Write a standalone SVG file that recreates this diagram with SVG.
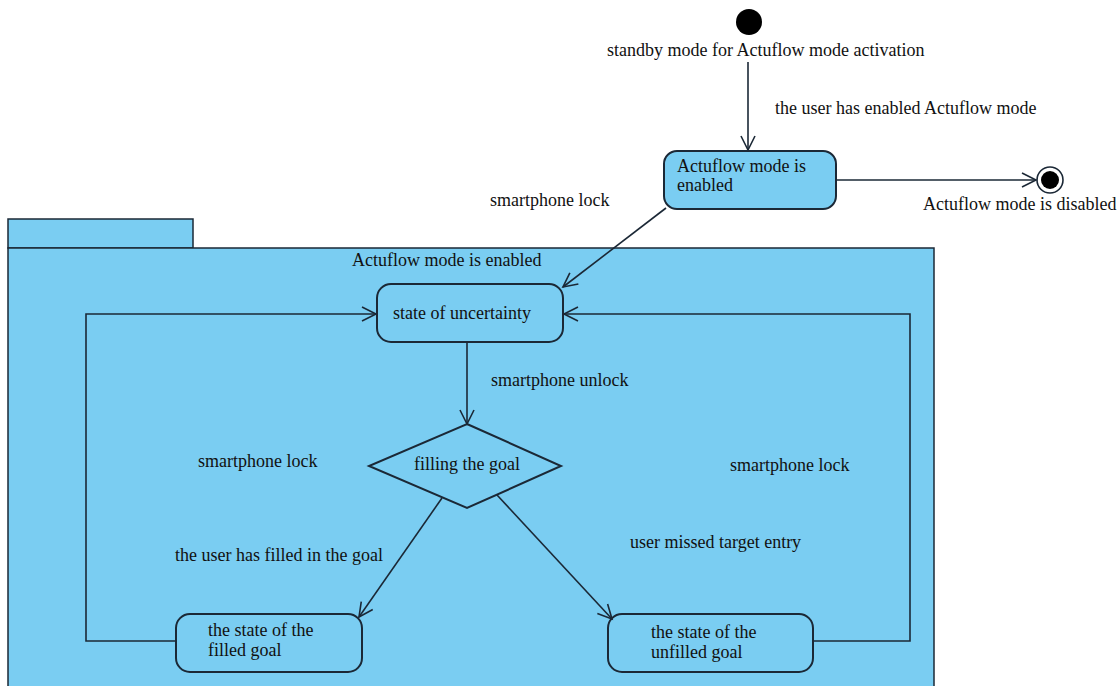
<svg xmlns="http://www.w3.org/2000/svg" width="1120" height="686" viewBox="0 0 1120 686">
  <style>
    .state { fill: #7acdf2; stroke: #1b2836; stroke-width: 2; }
    .frame { fill: #7acdf2; stroke: #1b2836; stroke-width: 1.5; }
    .edge { fill: none; stroke: #1b2836; stroke-width: 1.6; }
  </style>
  <defs>
    <marker id="open" markerWidth="20" markerHeight="20" refX="15" refY="8" orient="auto" markerUnits="userSpaceOnUse">
      <path d="M1,1 L15,8 L1,15" fill="none" stroke="#1b2836" stroke-width="1.6"/>
    </marker>
  </defs>
  <rect width="1120" height="686" fill="#ffffff"/>

  <g font-family="'Liberation Serif', 'Times New Roman', serif" font-size="18" fill="#111">
  <!-- composite state frame -->
  <g id="composite">
    <rect class="frame" x="8" y="219" width="185" height="29"/>
    <rect class="frame" x="8" y="248" width="926" height="450"/>
    <text x="352" y="266">Actuflow mode is enabled</text>
  </g>

  <g id="initial">
    <circle cx="749" cy="22" r="13" fill="#000"/>
    <text x="607" y="56">standby mode for Actuflow mode activation</text>
  </g>

  <g id="enabled">
    <rect class="state" x="664" y="151" width="172" height="58" rx="13"/>
    <text x="677" y="172">Actuflow mode is</text>
    <text x="677" y="191">enabled</text>
  </g>

  <g id="final">
    <circle cx="1050" cy="180" r="13" fill="#fff" stroke="#1b2836" stroke-width="1.6"/>
    <circle cx="1050" cy="180" r="9" fill="#000"/>
    <text x="923" y="210">Actuflow mode is disabled</text>
  </g>

  <g id="uncertainty">
    <rect class="state" x="377" y="284" width="186" height="58" rx="14"/>
    <text x="393" y="319">state of uncertainty</text>
  </g>

  <g id="decision">
    <polygon class="state" points="467,424 561,466 467,508 369,466"/>
    <text x="467" y="470" text-anchor="middle">filling the goal</text>
  </g>

  <g id="filled">
    <rect class="state" x="176" y="614" width="186" height="58" rx="14"/>
    <text x="208" y="636">the state of the</text>
    <text x="208" y="656">filled goal</text>
  </g>

  <g id="unfilled">
    <rect class="state" x="608" y="614" width="205" height="58" rx="14"/>
    <text x="651" y="638">the state of the</text>
    <text x="651" y="658">unfilled goal</text>
  </g>

  <g id="connectors">
    <line class="edge" x1="748" y1="62" x2="748" y2="150" marker-end="url(#open)"/>
    <line class="edge" x1="836" y1="180" x2="1036" y2="180" marker-end="url(#open)"/>
    <line class="edge" x1="666" y1="208" x2="563" y2="287" marker-end="url(#open)"/>
    <line class="edge" x1="467" y1="342" x2="467" y2="424" marker-end="url(#open)"/>
    <line class="edge" x1="442" y1="498" x2="359" y2="617" marker-end="url(#open)"/>
    <line class="edge" x1="497" y1="495" x2="612" y2="619" marker-end="url(#open)"/>
    <polyline class="edge" points="176,641 86,641 86,314 376,314" marker-end="url(#open)"/>
    <polyline class="edge" points="813,641 910,641 910,314 564,314" marker-end="url(#open)"/>
  </g>

  <g id="labels">
    <text x="775" y="114">the user has enabled Actuflow mode</text>
    <text x="490" y="206">smartphone lock</text>
    <text x="491" y="386">smartphone unlock</text>
    <text x="198" y="467">smartphone lock</text>
    <text x="730" y="471">smartphone lock</text>
    <text x="175" y="561">the user has filled in the goal</text>
    <text x="630" y="548">user missed target entry</text>
  </g>
  </g>
</svg>
